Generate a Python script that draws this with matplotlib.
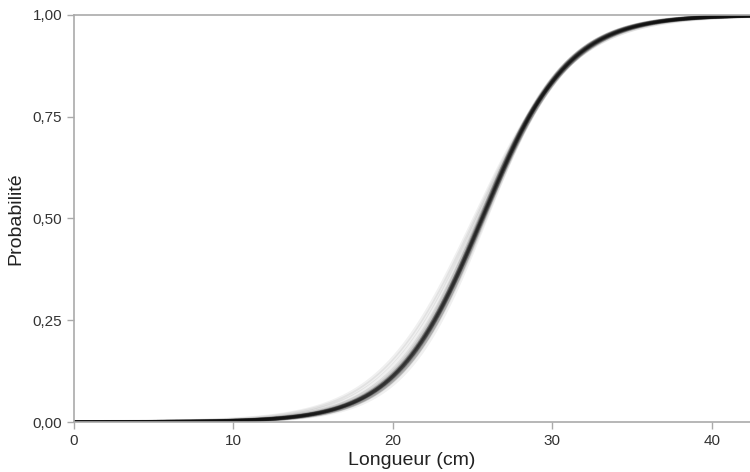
import numpy as np
import matplotlib
matplotlib.use("Agg")
import matplotlib.pyplot as plt
from matplotlib.ticker import FuncFormatter

plt.rcParams['font.family'] = ['Liberation Sans', 'DejaVu Sans']

# Bootstrap fits of the maturity ogive: length at 50 % (cm) and slope (1/cm)
l50 = [25.6, 25.55, 25.65, 25.5, 25.7, 25.6, 25.45, 25.75, 25.55, 25.65,
       25.6, 25.4, 25.8, 25.55, 25.6, 25.5, 25.7, 25.65, 25.3, 25.6,
       25.55, 25.7, 25.45, 25.6, 25.65, 25.5, 25.2, 25.6, 25.7, 25.55,
       25.1, 25.6, 25.65, 25.55, 25.45, 25.85, 25.6, 25.5, 25.65, 25.55]
slope = [0.37, 0.375, 0.365, 0.37, 0.38, 0.36, 0.365, 0.375, 0.37, 0.385,
         0.37, 0.355, 0.375, 0.365, 0.38, 0.37, 0.365, 0.36, 0.345, 0.375,
         0.37, 0.38, 0.36, 0.37, 0.365, 0.375, 0.335, 0.37, 0.385, 0.365,
         0.33, 0.375, 0.37, 0.365, 0.355, 0.39, 0.37, 0.375, 0.365, 0.37]

x_ticks = [0, 10, 20, 30, 40]
y_ticks = [0.0, 0.25, 0.5, 0.75, 1.0]

fig = plt.figure(figsize=(7.5, 4.72), dpi=100)
ax = fig.add_axes([74 / 750, 1 - 422 / 472, 1 - 74 / 750, (422 - 15) / 472])

length = np.linspace(0, 43, 600)
for a, b in zip(l50, slope):
    p = 1.0 / (1.0 + np.exp(-b * (length - a)))
    ax.plot(length, p, color='black', alpha=0.06, lw=2.6, solid_capstyle='butt')

ax.set_xlim(0, 42.4)
ax.set_ylim(0, 1)
ax.set_xticks(x_ticks)
ax.set_yticks(y_ticks)
ax.yaxis.set_major_formatter(FuncFormatter(lambda v, _: f"{v:.2f}".replace('.', ',')))

grey = '#aaaaaa'
for side in ['left', 'top', 'bottom']:
    ax.spines[side].set_color(grey)
    ax.spines[side].set_linewidth(1.2)
ax.spines['right'].set_visible(False)
ax.tick_params(axis='both', colors=grey, length=5, width=1.0,
               labelcolor='#333333', labelsize=11)

ax.set_xlabel('Longueur (cm)', fontsize=14, color='#222222', labelpad=3)
ax.set_ylabel('Probabilité', fontsize=14, color='#222222', labelpad=6)

fig.savefig('out.png', dpi=100)
